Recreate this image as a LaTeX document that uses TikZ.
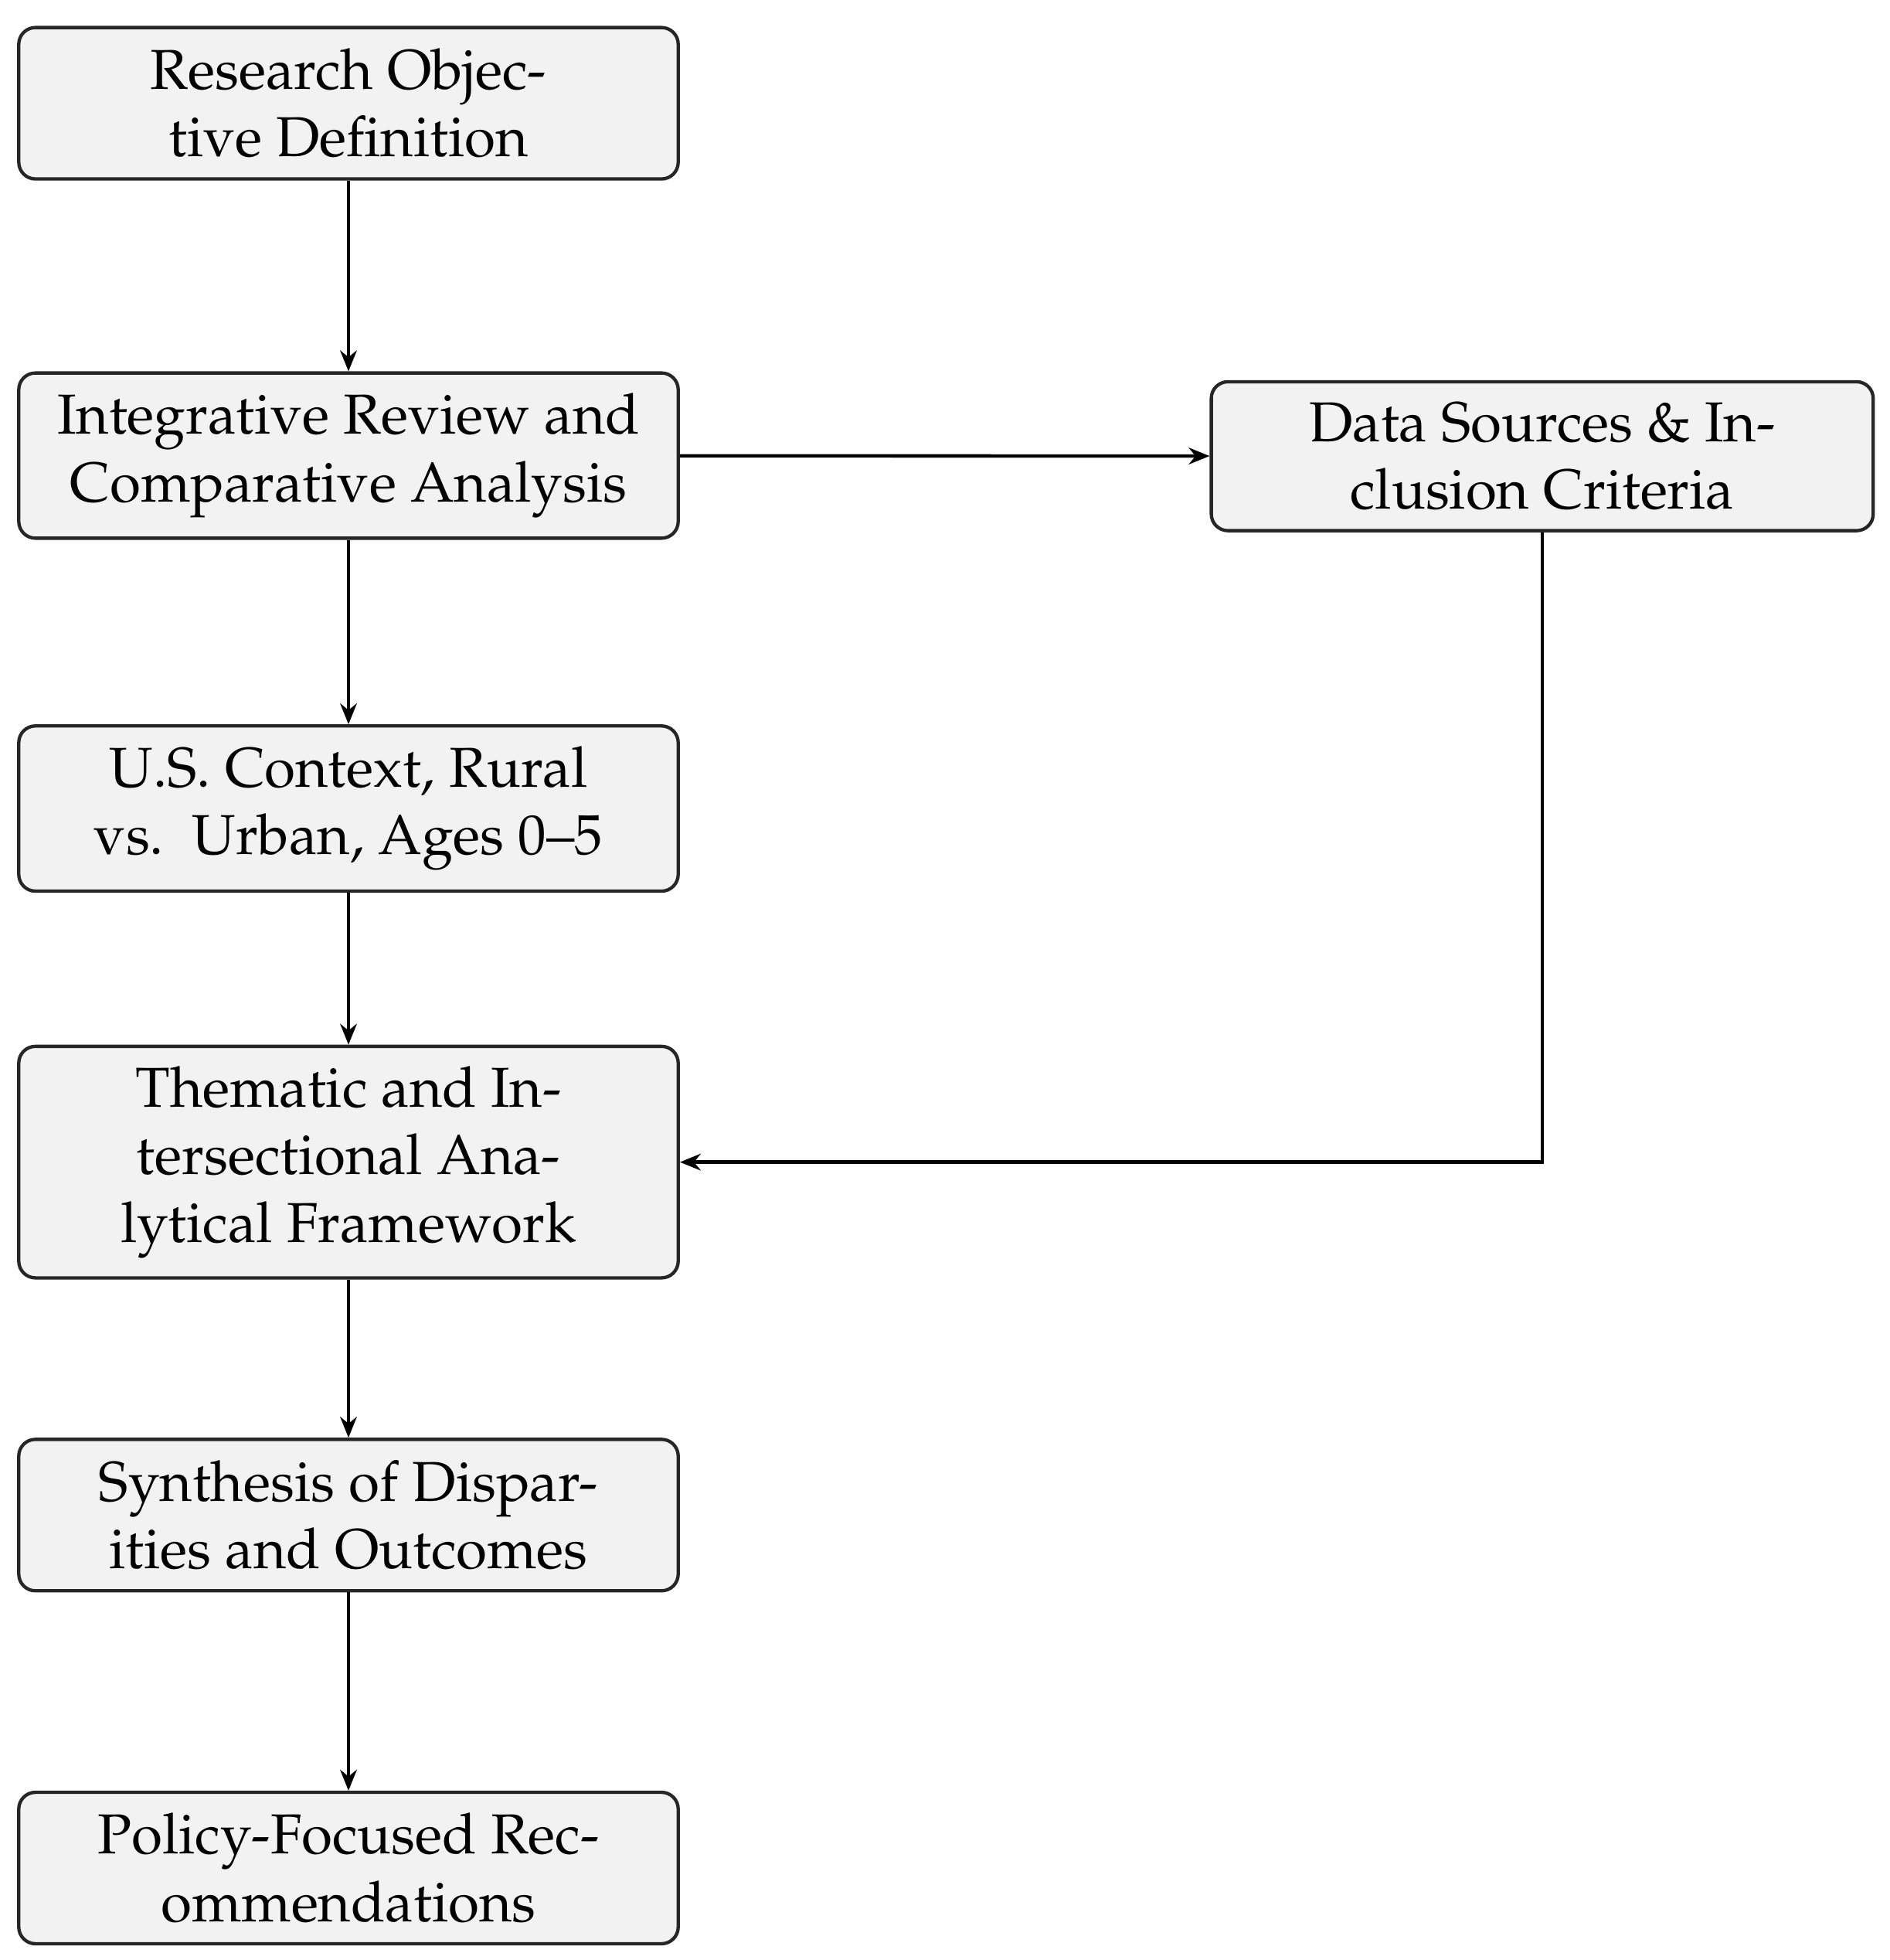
\documentclass[tikz,border=0pt]{standalone}
\usepackage[T1]{fontenc}
\usepackage{mathpazo}
\usetikzlibrary{arrows.meta}
\begin{document}
\begin{tikzpicture}[x=0.3pt,y=-0.3pt,
  box/.style={draw=black!85,line width=0.8pt,rounded corners=4pt,fill=black!5,
    align=center,inner sep=0pt,font=\fontsize{13.5}{16.2}\selectfont},
  arr/.style={line width=0.8pt,-{Stealth[length=5pt,width=4pt]}}]
\useasboundingbox (0,0) rectangle (1510,1566);
\node[box,minimum width=158.1pt,minimum height=36.3pt] (a) at (278.5,82.5) {Research Objec-\\tive Definition};
\node[box,minimum width=158.1pt,minimum height=39.6pt] (b) at (278.5,364) {Integrative Review and\\Comparative Analysis};
\node[box,minimum width=158.7pt,minimum height=35.7pt] (c) at (1232.5,364.5) {Data Sources \& In-\\clusion Criteria};
\node[box,minimum width=158.1pt,minimum height=39.6pt] (d) at (278.5,646) {U.S. Context, Rural\\vs.\ \ Urban, Ages 0--5};
\node[box,minimum width=158.1pt,minimum height=55.5pt] (e) at (278.5,928.5) {Thematic and In-\\tersectional Ana-\\lytical Framework};
\node[box,minimum width=158.1pt,minimum height=36.3pt] (f) at (278.5,1210.5) {Synthesis of Dispar-\\ities and Outcomes};
\node[box,minimum width=158.1pt,minimum height=36.3pt] (g) at (278.5,1492.5) {Policy-Focused Rec-\\ommendations};
\draw[arr] (a) -- (b);
\draw[arr] (b) -- (d);
\draw[arr] (d) -- (e);
\draw[arr] (e) -- (f);
\draw[arr] (f) -- (g);
\draw[arr] (b) -- (c);
\draw[arr] (c.south) |- (e.east);
\end{tikzpicture}
\end{document}
